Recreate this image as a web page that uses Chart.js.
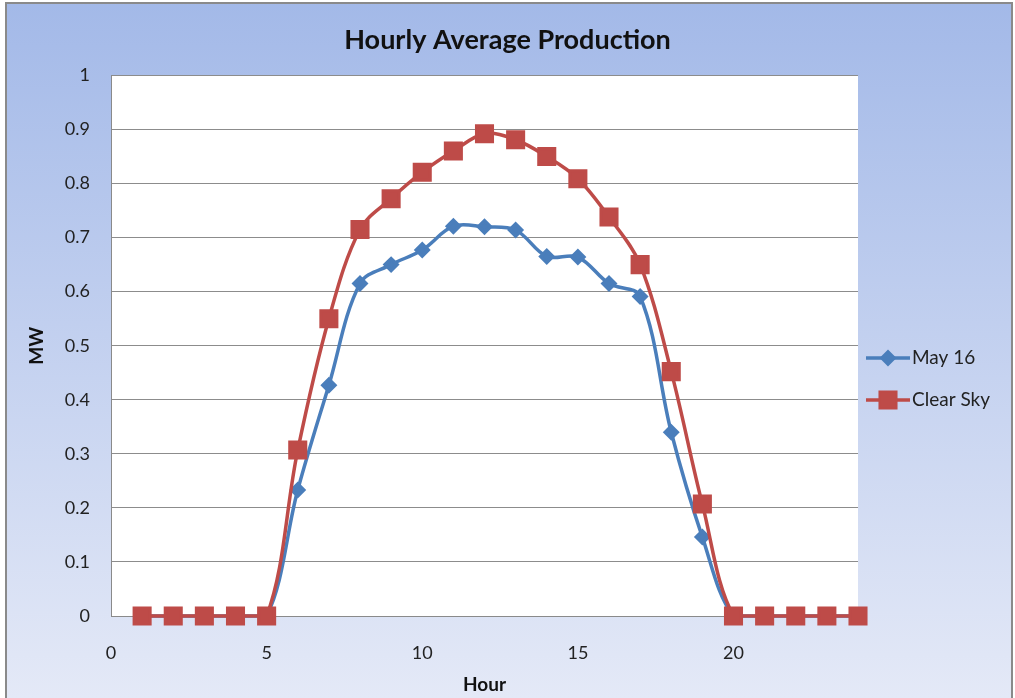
<!DOCTYPE html>
<html lang="en">
<head>
    <meta charset="UTF-8">
    <title>Hourly Average Production</title>
    <script src="https://cdn.jsdelivr.net/npm/chart.js@4.4.0/dist/chart.umd.min.js"></script>
    <style>
        html, body { margin: 0; padding: 0; background: #fff; }
        #wrap { width: 1015px; height: 698px; }
    </style>
</head>
<body>
    <div id="wrap"><canvas id="chart" width="1015" height="698"></canvas></div>
    <script>
        // data
        var hours = [1, 2, 3, 4, 5, 6, 7, 8, 9, 10, 11, 12, 13, 14, 15, 16, 17, 18, 19, 20, 21, 22, 23, 24];
        var may16 = [0, 0, 0, 0, 0, 0.233, 0.427, 0.615, 0.65, 0.677, 0.721, 0.72, 0.714, 0.665, 0.664, 0.615, 0.591, 0.34, 0.146, 0, 0, 0, 0, 0];
        var clearSky = [0, 0, 0, 0, 0, 0.307, 0.55, 0.715, 0.772, 0.821, 0.86, 0.892, 0.881, 0.85, 0.809, 0.738, 0.65, 0.452, 0.207, 0, 0, 0, 0, 0];
        var xTicks = [0, 5, 10, 15, 20];
        var yTicks = [0, 0.1, 0.2, 0.3, 0.4, 0.5, 0.6, 0.7, 0.8, 0.9, 1];
        var yTickLabels = ["0", "0.1", "0.2", "0.3", "0.4", "0.5", "0.6", "0.7", "0.8", "0.9", "1"];

        var FONT = "Lato, 'Open Sans', sans-serif";
        var BLUE = "#4a7ebb";
        var RED = "#be4b48";

        function points(values) {
            return hours.map(function (h, i) { return { x: h, y: values[i] }; });
        }

        // background, plot area and legend drawn by a small plugin
        var frame = {
            id: "frame",
            beforeDraw: function (chart) {
                var c = chart.ctx, a = chart.chartArea;
                c.save();
                c.fillStyle = "#ffffff";
                c.fillRect(0, 0, chart.width, chart.height);
                var g = c.createLinearGradient(0, 3, 0, chart.height);
                g.addColorStop(0, "#a3b9e8");
                g.addColorStop(1, "#e4e9f7");
                c.fillStyle = g;
                c.fillRect(6, 3, 1006, chart.height);
                c.strokeStyle = "#8a8a8a";
                c.lineWidth = 2;
                c.strokeRect(6, 3, 1006, chart.height + 5);
                c.fillStyle = "#ffffff";
                c.fillRect(a.left, a.top, a.right - a.left, a.bottom - a.top);
                c.restore();
            },
            afterDraw: function (chart) {
                var c = chart.ctx;
                var rows = [358, 400];
                c.save();
                chart.data.datasets.forEach(function (ds, i) {
                    var y = rows[i];
                    c.strokeStyle = ds.borderColor;
                    c.lineWidth = 3.5;
                    c.beginPath();
                    c.moveTo(866, y);
                    c.lineTo(910, y);
                    c.stroke();
                    Chart.helpers.drawPoint(c, {
                        pointStyle: ds.pointStyle,
                        radius: ds.pointRadius,
                        borderWidth: 1
                    }, 888, y);
                    c.fillStyle = ds.pointBackgroundColor;
                    c.fill();
                    c.fillStyle = "#222";
                    c.font = "19px " + FONT;
                    c.textBaseline = "middle";
                    c.fillText(ds.label, 912, y);
                });
                c.restore();
            }
        };

        var ctx = document.getElementById("chart").getContext("2d");
        var chart = new Chart(ctx, {
            type: "line",
            data: {
                datasets: [{
                    label: "May 16",
                    data: points(may16),
                    borderColor: BLUE,
                    backgroundColor: BLUE,
                    pointBackgroundColor: BLUE,
                    pointBorderColor: BLUE,
                    borderWidth: 3.5,
                    pointStyle: "rectRot",
                    pointRadius: 6,
                    tension: 0.35,
                    clip: false,
                    order: 1
                }, {
                    label: "Clear Sky",
                    data: points(clearSky),
                    borderColor: RED,
                    backgroundColor: RED,
                    pointBackgroundColor: RED,
                    pointBorderColor: RED,
                    borderWidth: 3.5,
                    pointStyle: "rect",
                    pointRadius: 11,
                    tension: 0.35,
                    clip: false,
                    order: 0
                }]
            },
            options: {
                responsive: false,
                animation: false,
                layout: { padding: 0 },
                plugins: {
                    legend: { display: false },
                    tooltip: { enabled: false },
                    title: {
                        display: true,
                        text: "Hourly Average Production",
                        color: "#111",
                        font: { family: FONT, size: 27, weight: "bold" },
                        padding: { top: 24, bottom: 19 }
                    }
                },
                scales: {
                    x: {
                        type: "linear",
                        min: 0,
                        max: 24,
                        afterBuildTicks: function (s) { s.ticks = xTicks.map(function (v) { return { value: v }; }); },
                        afterFit: function (s) { s.height = 82; },
                        grid: { display: false, drawTicks: false },
                        border: { color: "#8a8a8a", width: 1 },
                        ticks: { color: "#222", padding: 26, font: { family: FONT, size: 18 } },
                        title: {
                            display: true,
                            text: "Hour",
                            color: "#111",
                            font: { family: FONT, size: 19, weight: "bold" },
                            padding: { top: 0, bottom: 2 }
                        }
                    },
                    y: {
                        min: 0,
                        max: 1,
                        afterBuildTicks: function (s) { s.ticks = yTicks.map(function (v) { return { value: v }; }); },
                        afterFit: function (s) { s.width = 111; },
                        grid: { color: "#8c8c8c", lineWidth: 1, drawTicks: false },
                        border: { color: "#8a8a8a", width: 1 },
                        ticks: {
                            color: "#222",
                            padding: 21,
                            font: { family: FONT, size: 18 },
                            callback: function (v, i) { return yTickLabels[i]; }
                        },
                        title: {
                            display: true,
                            text: "MW",
                            color: "#111",
                            font: { family: FONT, size: 19, weight: "bold" },
                            padding: { top: 25, bottom: 0 }
                        }
                    },
                    // empty axis that keeps room on the right for the legend
                    side: {
                        position: "right",
                        min: 0,
                        max: 1,
                        afterFit: function (s) { s.width = 157; },
                        grid: { display: false, drawTicks: false },
                        border: { display: false },
                        ticks: { display: false }
                    }
                }
            },
            plugins: [frame]
        });
    </script>
</body>
</html>
